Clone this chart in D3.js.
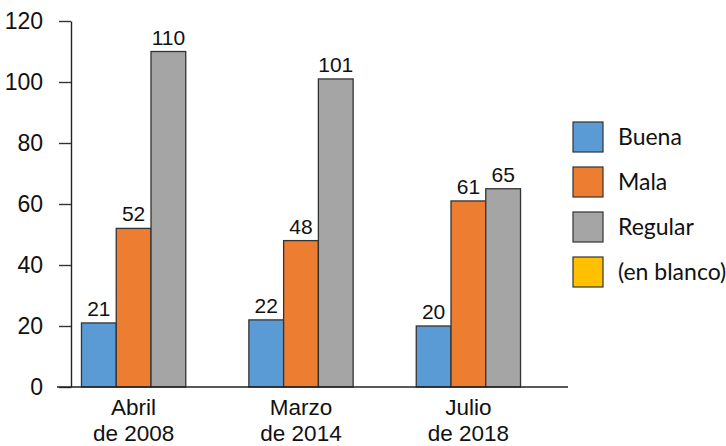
<!DOCTYPE html>
<html>
<head>
<meta charset="utf-8">
<script src="https://cdn.jsdelivr.net/npm/d3@7"></script>
<style>
  body { margin: 0; background: #fff; }
  svg { display: block; }
</style>
</head>
<body>
<div id="chart"></div>
<script>
// categories and series
const periods = [['Abril', 'de 2008'], ['Marzo', 'de 2014'], ['Julio', 'de 2018']];
const seriesNames = ['Buena', 'Mala', 'Regular', '(en blanco)'];
const buena = [21, 22, 20];
const mala = [52, 48, 61];
const regular = [110, 101, 65];
const yTicks = [0, 20, 40, 60, 80, 100, 120];

const colors = ['#5b9bd5', '#ed7d31', '#a5a5a5', '#ffc000'];
const width = 726;
const height = 446;

const svg = d3.select('#chart')
  .append('svg')
  .attr('width', width)
  .attr('height', height);

const y = d3.scaleLinear().domain([0, 120]).range([387, 21]);

const x = d3.scaleBand()
  .domain(d3.range(periods.length))
  .range([48, 554])
  .paddingInner(0.377)
  .paddingOuter(0.2);

const bars = ['Buena', 'Mala', 'Regular'];
const x1 = d3.scaleBand().domain(bars).range([0, x.bandwidth()]);

// y axis
const yAxis = svg.append('g')
  .attr('transform', 'translate(71,0)')
  .call(d3.axisLeft(y).tickValues(yTicks).tickSize(12).tickSizeOuter(0).tickPadding(16));
yAxis.select('.domain').attr('stroke', '#222').attr('stroke-width', 1.4);
yAxis.selectAll('.tick line').attr('stroke', '#333').attr('stroke-width', 1.4);
yAxis.selectAll('.tick text')
  .attr('fill', '#111')
  .style('font-family', '"Liberation Sans", Arial, sans-serif')
  .style('font-size', '23px');

// bars
const table = periods.map((p, i) => ({ i, values: [buena[i], mala[i], regular[i]] }));
const groups = svg.selectAll('g.period')
  .data(table)
  .enter()
  .append('g')
  .attr('class', 'period')
  .attr('transform', (d) => `translate(${x(d.i)},0)`);

groups.selectAll('rect')
  .data((d) => d.values.map((v, k) => ({ k, v })))
  .enter()
  .append('rect')
  .attr('x', (d) => x1(bars[d.k]))
  .attr('y', (d) => y(d.v))
  .attr('width', x1.bandwidth())
  .attr('height', (d) => y(0) - y(d.v))
  .attr('fill', (d) => colors[d.k])
  .attr('stroke', '#333')
  .attr('stroke-width', 1.3);

groups.selectAll('text.val')
  .data((d) => d.values.map((v, k) => ({ k, v })))
  .enter()
  .append('text')
  .attr('class', 'val')
  .attr('x', (d) => x1(bars[d.k]) + x1.bandwidth() / 2)
  .attr('y', (d) => y(d.v) - 7)
  .attr('text-anchor', 'middle')
  .style('font-family', '"Liberation Sans Narrow", "Liberation Sans", sans-serif')
  .style('font-size', '21px')
  .attr('fill', '#111')
  .text((d) => d.v);

// baseline
svg.append('line')
  .attr('x1', 57).attr('x2', 568)
  .attr('y1', y(0)).attr('y2', y(0))
  .attr('stroke', '#222').attr('stroke-width', 1.4);

// category labels, two lines each
const cat = svg.selectAll('text.cat')
  .data(periods)
  .enter()
  .append('text')
  .attr('class', 'cat')
  .attr('text-anchor', 'middle')
  .attr('x', (d, i) => x(i) + x.bandwidth() / 2)
  .attr('y', 415)
  .style('font-family', '"Liberation Sans Narrow", "Liberation Sans", sans-serif')
  .style('font-size', '22.5px')
  .attr('fill', '#111');
cat.append('tspan').text((d) => d[0]);
cat.append('tspan')
  .attr('x', (d, i) => x(i) + x.bandwidth() / 2)
  .attr('dy', 26)
  .text((d) => d[1]);

// legend
const legend = svg.selectAll('g.legend')
  .data(seriesNames)
  .enter()
  .append('g')
  .attr('class', 'legend')
  .attr('transform', (d, i) => `translate(573,${122 + i * 45})`);

legend.append('rect')
  .attr('width', 30)
  .attr('height', 30)
  .attr('fill', (d, i) => colors[i])
  .attr('stroke', '#333')
  .attr('stroke-width', 1.2);

legend.append('text')
  .attr('x', 45)
  .attr('y', 15)
  .attr('dy', '0.36em')
  .style('font-family', 'Lato, sans-serif')
  .style('font-size', '23px')
  .attr('fill', '#111')
  .text((d) => d);
</script>
</body>
</html>
